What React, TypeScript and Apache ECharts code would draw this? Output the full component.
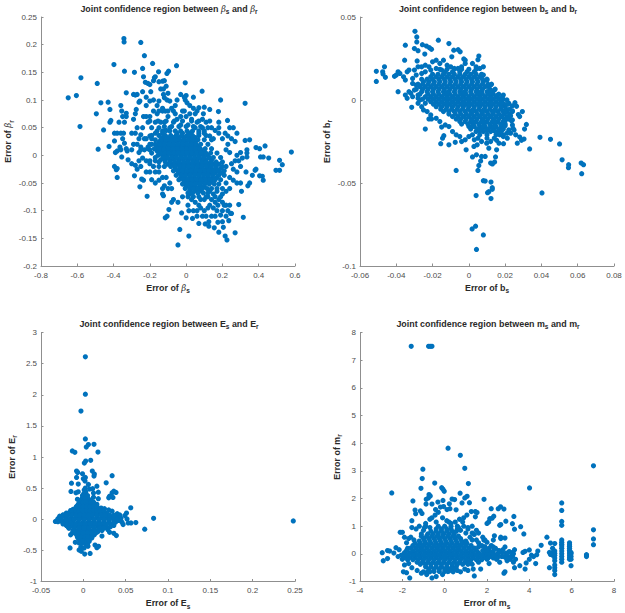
import React, { useEffect, useRef } from "react";
import * as echarts from "echarts";

type Row = [number, number[]];

const betaPoints = [[-0.65,0.104],[-0.605,0.108],[-0.58,0.14],[-0.585,0.052],[-0.49,0.13],[-0.495,0.075],[-0.47,0.095],[-0.485,0.011],[-0.455,0.046],[-0.43,0.096],[-0.42,0.083],[-0.425,0.016],[-0.398,0.164],[-0.343,0.211],[-0.342,0.205],[-0.34,0.152],[-0.25,0.204],[-0.23,0.18],[-0.185,0.166],[-0.24,0.157],[-0.285,0.15],[-0.053,0.162],[-0.152,0.151],[-0.097,0.152],[-0.106,0.148],[-0.005,0.131],[0.088,0.116],[0.19,0.1],[0.325,0.094],[0.178,0.079],[0.228,0.063],[-0.235,0.142],[-0.17,0.142],
[-0.045,-0.162],[0.015,-0.146],[-0.035,-0.134],[0.225,-0.153],[0.215,-0.146],[0.27,-0.14],[0.18,-0.139],[0.155,-0.131],[0.205,-0.13],[0.125,-0.128],[0.105,-0.124],[0.07,-0.123],[0.125,-0.12],[0.175,-0.121],[0.2,-0.12],[0.235,-0.118],[0.315,-0.112],[0.29,-0.089],[0.245,-0.105],[0.22,-0.11],[0.19,-0.108],[-0.115,-0.113],[-0.105,-0.11],[-0.095,-0.098],[-0.025,-0.104],[0,-0.113],[0.035,-0.114],[0.015,-0.1],[-0.08,-0.085],[-0.07,-0.08],[-0.045,-0.085],[-0.13,-0.07],[-0.125,-0.073],[-0.215,-0.074],[-0.17,-0.05],[-0.19,-0.044],[-0.255,-0.057],[-0.235,-0.045],[-0.245,-0.043],[-0.285,-0.037],[-0.38,-0.04],[-0.38,-0.024],[-0.395,-0.02],[-0.385,-0.026],
[0.58,0.006],[0.53,-0.017],[0.515,-0.009],[0.515,-0.027],[0.495,-0.027],[0.455,-0.005],[0.435,0.017],[0.425,-0.003],[0.41,-0.003],[0.405,0.012],[0.385,0.014],[0.42,-0.038],[0.425,-0.045],[0.405,-0.037],[0.385,-0.025],[0.38,-0.027],[0.365,-0.036],[0.35,0.028],[0.325,0.027],[0.335,0.01],[0.335,0.004],[0.335,-0.003],[0.35,-0.05],[0.34,-0.055],[0.305,-0.065],[0.3,-0.05],[0.33,-0.03],
[-0.33,0.113],[-0.29,0.11],[-0.28,0.109],[-0.27,0.11],[-0.26,0.096],[-0.255,0.098],[-0.24,0.115],[-0.22,0.105],[-0.225,0.132],[-0.21,0.13],[-0.2,0.128],[-0.195,0.115],[-0.18,0.135],[-0.175,0.14],[-0.15,0.133],[-0.13,0.134],[-0.12,0.135],[-0.11,0.125],[-0.14,0.12],[-0.125,0.12],[-0.1,0.112],[-0.09,0.098],[-0.125,0.11],[-0.12,0.104],[-0.105,0.1],[-0.15,0.098],[-0.16,0.09],[-0.18,0.1],[-0.2,0.098],[-0.22,0.09],[-0.275,0.083],[-0.28,0.075],[-0.29,0.065],[-0.235,0.07],[-0.22,0.07],[-0.2,0.07],[-0.18,0.08],[-0.16,0.075],[-0.15,0.08],[-0.13,0.085],[-0.115,0.08],[-0.14,0.06],[-0.17,0.06],[-0.19,0.05],[-0.21,0.06],[-0.24,0.05],[-0.27,0.05],[-0.28,0.04],[-0.3,0.04],[-0.25,0.037],[-0.23,0.03],[-0.2,0.035],[-0.17,0.04],[-0.15,0.05],[-0.12,0.06],[-0.1,0.07],[-0.08,0.085],[-0.06,0.075],[-0.05,0.065],[-0.07,0.06],[-0.09,0.05],[-0.11,0.045],[-0.13,0.04],[-0.06,0.09],[-0.05,0.1],[-0.03,0.11],[-0.01,0.105],[0,0.108],[-0.005,0.1],[0.005,0.095],[0.04,0.105],[0.02,0.09],[0.04,0.085],[0.07,0.086],[0.1,0.087],[0.13,0.083],[0.095,0.075],[0.05,0.075],[0.02,0.075],[-0.02,0.08],[-0.03,0.07],[0,0.07],[0.03,0.065],[0.06,0.06],[0.09,0.065],[0.11,0.06],[0.14,0.05],[0.18,0.06],[0.18,0.05],[0.18,0.04],[0.16,0.045],[0.12,0.05],[0.09,0.05],[0.05,0.05],[0.01,0.055],[-0.03,0.055],[0.1,0.04],[0.07,0.04],[0.13,0.035],[0.15,0.03],[0.2,0.03],[0.215,0.04],[0.24,0.05],[0.26,0.05],[0.23,0.02],[0.23,0.035],[0.25,0.03],[0.27,0.025],[0.28,0.04],
[-0.395,0.04],[-0.38,0.04],[-0.36,0.04],[-0.345,0.04],[-0.35,0.03],[-0.34,0.022],[-0.33,0.012],[-0.325,0.008],[-0.355,0.08],[-0.36,0.09],[-0.35,0.07],[-0.34,0.06],[-0.33,0.07],[-0.33,0.076],[-0.37,0.06],[-0.42,0.06],[-0.415,0.063],[-0.395,0.026],[-0.39,0.005],[-0.38,0.008],[-0.365,0.015],[-0.36,0.01],[-0.355,-0.003],[-0.32,-0.008],[-0.3,-0.015],[-0.28,-0.018],[-0.27,-0.025],[-0.29,0.02],[-0.27,0.02],[-0.25,0.015],[-0.23,0.01],[-0.21,0.015],[-0.19,0.02],[-0.26,0.005],[-0.24,-0.005],[-0.22,-0.01],[-0.2,-0.015],[-0.18,-0.02],[-0.22,-0.03],[-0.2,-0.03],[-0.17,-0.03],[-0.15,-0.03],[-0.13,-0.04],[-0.11,-0.04],[-0.12,-0.055],[-0.1,-0.06],[-0.08,-0.06],[-0.09,-0.05],[-0.15,-0.045],[-0.13,-0.06],
[0.02,-0.07],[0.03,-0.08],[0.05,-0.085],[0.08,-0.08],[0.1,-0.08],[0.12,-0.075],[0.14,-0.08],[0.16,-0.085],[0.18,-0.08],[0.2,-0.085],[0.22,-0.09],[0.24,-0.09],[0.25,-0.105],[0.23,-0.1],[0.2,-0.1],[0.17,-0.1],[0.15,-0.095],[0.12,-0.095],[0.1,-0.1],[0.08,-0.095],[0.06,-0.1],[0.04,-0.1],[0.09,-0.11],[0.11,-0.11],[0.14,-0.11],[0.16,-0.11],[0.06,-0.11],[0.2,-0.07],[0.22,-0.065],[0.24,-0.06],[0.26,-0.045],[0.24,-0.04],[0.26,-0.025],[0.28,-0.03],[0.3,-0.02],[0.29,-0.01],[0.28,0],[0.3,0.005],[0.31,-0.005],[0.27,-0.01],[0.25,-0.015],[0.22,-0.02],[0.24,0.005],[0.22,0.01],[0.28,-0.05],[0.22,-0.05],[0.2,-0.06],[0.17,-0.065],[0.15,-0.07],[0.13,-0.065]];
const betaCore: Row[] = [
[0.04,[-0.05,-0.02,0.02]],
[0.032,[-0.13,-0.1,-0.07,-0.04,-0.01,0.02,0.05]],
[0.024,[-0.15,-0.125,-0.1,-0.075,-0.05,-0.025,0,0.025,0.05]],
[0.016,[-0.16,-0.135,-0.11,-0.085,-0.06,-0.035,-0.01,0.015,0.04,0.065]],
[0.008,[-0.16,-0.135,-0.11,-0.085,-0.06,-0.035,-0.01,0.015,0.04,0.065,0.09]],
[0,[-0.155,-0.13,-0.105,-0.08,-0.055,-0.03,-0.005,0.02,0.045,0.07,0.095,0.12]],
[-0.008,[-0.14,-0.115,-0.09,-0.065,-0.04,-0.015,0.01,0.035,0.06,0.085,0.11,0.14]],
[-0.016,[-0.1,-0.075,-0.05,-0.025,0,0.025,0.05,0.075,0.1,0.125,0.15,0.18]],
[-0.024,[-0.06,-0.035,-0.01,0.015,0.04,0.065,0.09,0.115,0.14,0.165,0.19]],
[-0.032,[-0.04,-0.015,0.01,0.035,0.06,0.085,0.11,0.135,0.16,0.19]],
[-0.04,[-0.03,-0.005,0.02,0.045,0.07,0.095,0.12,0.145,0.17]],
[-0.048,[-0.01,0.015,0.04,0.065,0.09,0.115,0.14]],
[-0.056,[0,0.025,0.05,0.075,0.1]],
[-0.064,[0.02,0.05,0.08]],
[0.08,[-0.13,-0.1,-0.07,-0.01,0.06]],
[0.062,[-0.2,-0.155,-0.11,-0.065,-0.02,0.03,0.07,0.13]],
[0.052,[-0.12,-0.08,-0.04,0,0.04,0.08]],
[0.044,[-0.16,-0.13,-0.09,-0.06,-0.03,0.005,0.035,0.07,0.1]],
[0.036,[-0.19,-0.15,-0.115,-0.085,-0.055,-0.025,0.005,0.035,0.07,0.11]],
[0.028,[-0.17,-0.14,-0.11,-0.085,-0.06,-0.035,-0.01,0.012,0.035,0.065,0.1,0.14]],
[0.02,[-0.2,-0.17,-0.145,-0.12,-0.095,-0.07,-0.045,-0.02,0.005,0.03,0.055,0.08,0.12]],
[0.012,[-0.21,-0.175,-0.147,-0.122,-0.097,-0.072,-0.047,-0.022,0.003,0.028,0.052,0.078,0.105,0.14]],
[0.004,[-0.19,-0.145,-0.118,-0.093,-0.068,-0.043,-0.018,0.007,0.032,0.057,0.082,0.108,0.135,0.17]],
[-0.004,[-0.17,-0.128,-0.103,-0.078,-0.053,-0.028,-0.003,0.022,0.047,0.072,0.097,0.125,0.15,0.19]],
[-0.012,[-0.15,-0.115,-0.088,-0.063,-0.038,-0.013,0.012,0.037,0.062,0.087,0.112,0.138,0.165,0.2]],
[-0.02,[-0.085,-0.06,-0.035,-0.01,0.012,0.037,0.062,0.087,0.112,0.138,0.165,0.2]],
[-0.028,[-0.07,-0.048,-0.022,0.002,0.027,0.052,0.077,0.102,0.127,0.152,0.178,0.21]],
[-0.036,[-0.055,-0.028,-0.003,0.022,0.047,0.072,0.097,0.122,0.147,0.18,0.21]],
[-0.044,[-0.04,-0.015,0.007,0.032,0.057,0.082,0.107,0.13,0.16,0.19]],
[-0.052,[-0.02,0.006,0.028,0.052,0.077,0.102,0.127,0.155,0.18]],
[-0.06,[-0.005,0.02,0.04,0.065,0.09,0.115,0.14,0.17]],
[-0.068,[0.01,0.035,0.065,0.095,0.12]],
[-0.075,[-0.02,0.01,0.04,0.07,0.11,0.16,0.19]],
[-0.09,[0.01,0.07,0.13,0.175,0.21]],
[0.03,[-0.26,-0.22,-0.19]],
[0.01,[-0.3,-0.25,-0.2]],
[-0.01,[-0.26,-0.2,-0.17]],
[-0.02,[-0.25,-0.15,-0.12]]];

const bPoints = [[-0.051,0.0173],[-0.051,0.0112],[-0.0475,0.017],[-0.0465,0.02],[-0.0473,0.0157],[-0.046,0.0137],[-0.041,0.0143],[-0.04,0.015],[-0.039,0.017],[-0.039,0.005],[-0.0297,0.0414],[-0.0287,0.038],[-0.0287,0.035],[-0.035,0.033],[-0.03,0.031],[-0.028,0.0297],[-0.0256,0.0333],[-0.0234,0.0325],[-0.0217,0.0315],[-0.0206,0.0305],[-0.0243,0.0277],[-0.0168,0.036],[-0.011,0.034],[-0.0083,0.03],[-0.0059,0.0303],[-0.0048,0.029],[-0.0094,0.026],[0.0055,0.0265],[0.005,0.0243],[-0.0028,0.0247],[-0.002,0.024],[-0.0354,0.024],[-0.0285,0.0235],
[-0.0315,-0.0044],[-0.024,-0.0175],[-0.022,-0.0114],[-0.0206,-0.0114],[-0.015,-0.0163],[-0.0155,-0.0263],[-0.0145,-0.023],[-0.0138,-0.0215],[-0.011,-0.027],[-0.0075,-0.0255],[-0.007,-0.0424],[-0.0015,-0.03],[-0.004,-0.025],[0.005,-0.0424],[0.0055,-0.0394],[0.0065,-0.0367],[0.007,-0.034],[0.009,-0.034],[0.002,-0.0343],[0.0042,-0.033],[0.0028,-0.028],[0.0046,-0.027],[0.008,-0.0486],[0.009,-0.0488],[0.0122,-0.0494],[0.0129,-0.0528],[0.0129,-0.0538],[0.011,-0.0552],[0.0103,-0.0558],[0.004,-0.0576],[0.0122,-0.0594],[0.0037,-0.076],[0.0018,-0.0777],[0.008,-0.0813],[0.0042,-0.09],[0.0403,-0.056],[0.012,-0.038],[0.013,-0.0385],[0.0142,-0.0373],[0.0147,-0.0343],[0.0153,-0.03],[0.011,-0.029],[0.0098,-0.026],
[0.0335,-0.0295],[0.0392,-0.0225],[0.045,-0.0237],[0.05,-0.0265],[0.0514,-0.036],[0.055,-0.039],[0.0549,-0.0408],[0.0619,-0.038],[0.0632,-0.039],[0.0622,-0.0444],[0.0307,-0.0175],[0.0317,-0.0147],[0.0295,-0.007],[0.0273,-0.0088],[0.0254,-0.0016],[0.0263,-0.0038],[0.028,-0.01],[0.0249,-0.018],[0.0258,-0.021],[0.028,-0.0223],[0.029,-0.0243],[0.0304,-0.0235],[0.0267,-0.026],[0.0191,-0.0263],[0.0166,-0.026],[0.0153,-0.0243],[0.0212,-0.023],[0.023,-0.02],[0.0243,-0.017],[0.024,-0.012],[0.024,-0.007],
[-0.038,0.016],[-0.036,0.014],[-0.035,0.012],[-0.034,0.017],[-0.033,0.005],[-0.035,0.003],[-0.034,0.001],[-0.032,0.004],[-0.031,0.002],[-0.033,0.018],[-0.03,0.018],[-0.028,0.02],[-0.026,0.02],[-0.024,0.021],[-0.022,0.02],[-0.02,0.023],[-0.018,0.024],[-0.016,0.022],[-0.014,0.024],[-0.012,0.021],[-0.01,0.02],[-0.008,0.019],[-0.006,0.019],[-0.004,0.02],[-0.002,0.022],[0.002,0.022],[0.004,0.02],[0.006,0.019],[0.008,0.02],[-0.031,0.013],[-0.029,0.015],[-0.029,0.009],[-0.03,0.006],[-0.031,0.01],[-0.028,0.003],[-0.027,0],[-0.028,-0.002],[-0.026,-0.004],[-0.025,-0.006],[-0.023,-0.007],[-0.021,-0.009],[-0.018,-0.011],[-0.016,-0.013],[-0.013,-0.015],[-0.011,-0.016],[-0.009,-0.019],[-0.007,-0.021],[-0.005,-0.022],[-0.002,-0.024],[0,-0.022],[0.003,-0.024],[0.005,-0.023],[0.007,-0.025],[0.01,-0.023],[0.012,-0.025],[0.014,-0.023],[0.017,-0.021],[0.019,-0.022],[0.022,-0.018],[0.021,-0.02],[0.024,-0.015],[0.022,-0.002],[0.021,0],[0.019,0.003],[0.016,0.003],[0.014,0.006],[0.012,0.009],[0.01,0.012],[0.008,0.015],[-0.026,0.016],[-0.024,0.017],[-0.021,0.018],[-0.018,0.019],[-0.015,0.018]];
const bCore: Row[] = [
[0.017,[-0.013,-0.009,-0.005,-0.001,0.003]],
[0.014,[-0.021,-0.018,-0.015,-0.012,-0.009,-0.006,-0.003,0,0.003,0.006]],
[0.011,[-0.025,-0.022,-0.019,-0.016,-0.013,-0.01,-0.007,-0.004,-0.001,0.002,0.005,0.008]],
[0.008,[-0.027,-0.024,-0.021,-0.018,-0.015,-0.012,-0.009,-0.006,-0.003,0,0.003,0.006,0.009,0.011]],
[0.005,[-0.026,-0.023,-0.02,-0.017,-0.014,-0.011,-0.008,-0.005,-0.002,0.001,0.004,0.007,0.01,0.013]],
[0.002,[-0.024,-0.021,-0.018,-0.015,-0.012,-0.009,-0.006,-0.003,0,0.003,0.006,0.009,0.012,0.015]],
[-0.001,[-0.021,-0.018,-0.015,-0.012,-0.009,-0.006,-0.003,0,0.003,0.006,0.009,0.012,0.015,0.018]],
[-0.004,[-0.018,-0.015,-0.012,-0.009,-0.006,-0.003,0,0.003,0.006,0.009,0.012,0.015,0.018,0.02]],
[-0.007,[-0.014,-0.011,-0.008,-0.005,-0.002,0.001,0.004,0.007,0.01,0.013,0.016,0.019,0.021]],
[-0.01,[-0.009,-0.006,-0.003,0,0.003,0.006,0.009,0.012,0.015,0.018,0.021]],
[-0.013,[-0.005,-0.002,0.001,0.004,0.007,0.01,0.013,0.016,0.019]],
[-0.016,[0,0.003,0.006,0.009,0.012,0.015,0.018]],
[-0.019,[0.004,0.008,0.012,0.016]],
[0.0185,[-0.016,-0.012,-0.008,-0.004,0,0.004]],
[0.0155,[-0.02,-0.017,-0.014,-0.011,-0.008,-0.005,-0.002,0.001,0.004,0.007]],
[0.0125,[-0.026,-0.023,-0.02,-0.0165,-0.0135,-0.0105,-0.0075,-0.0045,-0.0015,0.0015,0.0045,0.0075,0.01]],
[0.0095,[-0.028,-0.0255,-0.0225,-0.0195,-0.0165,-0.0135,-0.0105,-0.0075,-0.0045,-0.0015,0.0015,0.0045,0.0075,0.0105,0.0125]],
[0.0065,[-0.029,-0.0255,-0.0225,-0.0195,-0.0165,-0.0135,-0.0105,-0.0075,-0.0045,-0.0015,0.0015,0.0045,0.0075,0.0115,0.0145]],
[0.0035,[-0.027,-0.0225,-0.0195,-0.0165,-0.0135,-0.0105,-0.0075,-0.0045,-0.0015,0.0015,0.0045,0.0075,0.0105,0.0135,0.0165]],
[0.0005,[-0.0255,-0.0225,-0.0195,-0.0165,-0.0135,-0.0105,-0.0075,-0.0045,-0.0015,0.0015,0.0045,0.0075,0.0105,0.0135,0.0165,0.019]],
[-0.0025,[-0.0195,-0.0165,-0.0135,-0.0105,-0.0075,-0.0045,-0.0015,0.0015,0.0045,0.0075,0.0105,0.0135,0.0165,0.0195,0.0215]],
[-0.0055,[-0.0155,-0.0125,-0.0095,-0.0065,-0.0035,-0.0005,0.0025,0.0055,0.0085,0.0115,0.0145,0.0175,0.0205,0.0225]],
[-0.0085,[-0.011,-0.0075,-0.0045,-0.0015,0.0015,0.0045,0.0075,0.0105,0.0135,0.0165,0.0195,0.0225]],
[-0.0115,[-0.007,-0.0045,-0.0015,0.0015,0.0045,0.0075,0.0105,0.0135,0.0165,0.0195,0.022]],
[-0.0145,[-0.004,-0.0005,0.0025,0.0055,0.0085,0.0115,0.0145,0.0175,0.02]],
[-0.0175,[0.001,0.0045,0.0075,0.0105,0.0135,0.0165,0.019]],
[-0.0035,[0,0.006,0.012,0.018,0.024]],
[-0.0065,[0.002,0.008,0.014,0.02,0.024]],
[-0.0095,[0,0.006,0.012,0.018,0.023]],
[-0.0125,[0.002,0.008,0.014,0.02,0.0235]],
[-0.0155,[0.002,0.008,0.014,0.02]],
[-0.0185,[0.006,0.01,0.014,0.018]],
[-0.021,[0.002,0.006,0.01,0.015,0.019]],
[0.001,[-0.028,-0.012,-0.006,0,0.006,0.012,0.018]],
[0.0045,[-0.012,-0.003,0.006,0.012]],
[-0.002,[-0.024,-0.012,-0.003,0.006,0.012,0.018]]];

const ePoints = [[0.0024,2.61],[0.0024,2.01],[-0.0028,1.737],[0.0024,1.29],[0.0126,1.204],[0.006,1.2],[0.0035,1.16],[0.0173,1.08],[-0.013,1.097],[-0.01,1.075],[0.0087,0.946],[0.0028,0.935],[0.0012,0.903],[-0.008,0.775],[-0.0067,0.753],[0.0106,0.775],[0.013,0.726],[0.0126,0.693],[-0.001,0.73],[0.034,0.7],[-0.008,0.672],[-0.014,0.58],[-0.006,0.565],[0.0024,0.672],[0,0.65],[0.002,0.613],[0.006,0.56],[0.027,0.586],[0.016,0.532],[-0.0146,0.446],[-0.0087,0.425],[-0.006,0.44],[0.0075,0.484],[0.011,0.49],[0.0024,0.5],[0.0177,0.435],[0.012,0.42],[0.036,0.45],[0.0386,0.43],[0.034,0.425],[0.031,0.37],[0.035,0.35],[0.03,0.344],[-0.007,0.32],[0.0177,0.33],[0.012,0.355],[0.001,0.47],[0.003,0.44],[0.0005,0.41],
[0.0016,-0.56],[0.008,-0.55],[-0.005,-0.495],[-0.0024,-0.516],[-0.0157,-0.46],[-0.0095,-0.37],[-0.005,-0.38],[0.0055,-0.435],[0.0138,-0.415],[0.018,-0.435],[0.016,-0.457],[0.022,-0.27],[0.039,-0.263],[0.036,-0.226],[0.031,-0.21],[0.029,-0.167],[0.0725,-0.16],[0.083,0.016],[0.248,-0.027],[0.062,-0.054],[0.056,0.183],[0.0563,-0.06],[0.0516,0.005],[0.053,-0.06],[0.047,-0.086],[0.051,0.1],[0.049,0.06],[0.0445,0.016],[0.0457,-0.048],[0.043,0.07],[0.04,0.04],[0.042,-0.02],[0.038,-0.05],[0.036,-0.1],[0.032,-0.12],[0.028,-0.14],[-0.015,-0.25],[-0.013,-0.22],[-0.012,-0.18],[-0.018,-0.12],[-0.02,-0.1],[-0.022,-0.07],[-0.027,-0.03],[-0.033,-0.035],[-0.03,0.01],[-0.028,0.05],[-0.024,0.07],[-0.02,0.1],[-0.015,0.14],[-0.012,0.16],[-0.008,0.2],[-0.006,0.24],[0.021,0.18],[0.025,0.17],[0.03,0.15],[0.034,0.13],[0.04,0.09],[0.012,0.27],[0.016,0.24],[-0.006,-0.3],[0.01,-0.3],[0.013,-0.25],[0.017,-0.2],[0.022,-0.18],[0.004,0.35],[0.001,0.3],[0.005,-0.42],[-0.003,-0.45],[0.001,-0.46]];
const eCore: Row[] = [
[0.38,[-0.001,0.002,0.005]],
[0.31,[-0.003,0,0.003,0.006,0.009]],
[0.24,[-0.005,-0.001,0.003,0.007,0.011,0.014]],
[0.17,[-0.01,-0.006,-0.002,0.002,0.006,0.01,0.014,0.018]],
[0.1,[-0.017,-0.012,-0.007,-0.002,0.003,0.008,0.013,0.018,0.023,0.028]],
[0.03,[-0.026,-0.02,-0.014,-0.008,-0.002,0.004,0.01,0.016,0.022,0.028,0.034,0.038]],
[-0.04,[-0.03,-0.024,-0.018,-0.012,-0.006,0,0.006,0.012,0.018,0.024,0.03,0.036]],
[-0.11,[-0.019,-0.013,-0.007,-0.001,0.005,0.011,0.017,0.023,0.027]],
[-0.18,[-0.012,-0.007,-0.002,0.003,0.008,0.013,0.017]],
[-0.25,[-0.008,-0.003,0.002,0.007,0.011]],
[-0.32,[-0.005,-0.001,0.003,0.007]],
[-0.39,[-0.002,0.002,0.005]],
[0.345,[-0.001,0.002,0.005]],
[0.275,[-0.004,-0.001,0.003,0.006,0.009,0.012]],
[0.205,[-0.008,-0.004,0,0.004,0.008,0.012,0.016]],
[0.135,[-0.014,-0.009,-0.005,-0.001,0.004,0.008,0.012,0.016,0.02,0.024]],
[0.065,[-0.024,-0.019,-0.014,-0.009,-0.004,0.001,0.006,0.011,0.016,0.021,0.026,0.031,0.036]],
[-0.005,[-0.03,-0.026,-0.021,-0.016,-0.011,-0.005,0.001,0.007,0.013,0.019,0.025,0.031,0.037,0.04]],
[-0.075,[-0.024,-0.019,-0.014,-0.009,-0.004,0.002,0.008,0.014,0.02,0.026,0.032]],
[-0.145,[-0.017,-0.011,-0.005,0.001,0.007,0.013,0.019,0.024]],
[-0.215,[-0.01,-0.005,0,0.005,0.01,0.015]],
[-0.285,[-0.007,-0.003,0.002,0.006,0.01]],
[-0.355,[-0.003,0,0.004,0.007]]];

const mPoints = [[-1.58,7.5],[-0.76,7.5],[-0.68,7.5],[-0.6,7.5],[0.16,3.82],[0.74,3.56],[0.95,3.09],[7.03,3.18],[-1.03,3.06],[-1.06,2.72],[-0.47,2.56],[1.12,2.54],[-1.12,2.37],[-0.14,2.39],[-0.08,2.33],[-0.02,2.26],[4.01,2.38],[-2.5,2.2],[-0.74,2.14],[-0.68,2.09],[0.73,2.19],[1.06,2.08],[0.95,2.02],[1.86,1.97],[-1.5,1.91],[-0.87,1.97],[-0.77,2.02],[0.35,1.98],[0.47,1.96],[-0.08,1.93],[-0.32,1.87],[-0.88,1.8],[-0.6,1.8],[0.22,1.81],[0.82,1.84],[1.17,1.85],[5.53,1.84],[5.53,1.57],[5.53,1.17],[5.53,1.03],[-1.4,1.58],[-1.15,1.55],[-1.37,1.45],[-1.07,1.46],[-0.43,1.6],[-0.2,1.69],[-0.05,1.71],[0.54,1.59],[0.11,1.6],[0.25,1.63],[1.26,1.53],[1.45,1.53],[1.53,1.49],[1.45,1.34],[2.2,1.63],[2.53,1.63],[2.64,1.7],[2.8,1.62],[3.27,1.35],[2.89,1.18],[3.2,1.09],[3.3,0.89],[3.59,0.98],[3.74,0.72],[2.24,1.29],[2.13,1.27],[2.32,1.36],[2,1.1],[2.08,1.15],[2.6,1.03],[2.65,1.06],[7.03,0.87],[7.03,0.54],[7.03,0.33],[4.83,0.6],[5,0.39],[5.2,0.37],[4.56,0.31],
[5.53,0.5],[5.53,0.42],[5.53,0.35],[5.53,0.28],[5.53,0.2],[5.53,0.1],[5.53,0],[5.53,-0.1],[5.53,-0.2],[5.53,-0.3],[5.9,0.4],[5.9,0.33],[5.9,0.27],[5.9,0.2],[5.9,0.13],[5.9,0.07],[5.9,0],[5.9,-0.07],[5.9,-0.14],[5.9,-0.2],[5.97,0.05],[5.97,0],[5.97,-0.1],[5.97,-0.2],[5.97,-0.43],[5.2,0.1],[5.2,0.02],[5.2,-0.05],[5.2,-0.15],[5.2,-0.25],[5.2,-0.4],[5.2,-0.5],[5.2,-0.6],[5.2,-0.75],[5.1,0.2],[5.1,0.05],[5.1,-0.05],[6.7,-0.03],[6.7,-0.1],[6.7,-0.05],[4.95,-0.5],[4.95,0.05],[5,-0.02],[4.4,0.1],[4.35,-0.03],[4.3,-0.35],[4.2,-0.1],[4.1,-0.05],[4,0.14],[4,-0.2],[3.8,0.09],[3.7,0.05],[3.85,-0.33],[3.8,-0.55],[3.55,-0.43],[3.3,-0.5],[3.3,0.15],[3.2,0.05],[3.15,-0.08],[3.35,-0.2],[3.05,0.08],[3,-0.15],[3.25,-0.3],[2.95,-0.25],[2.85,-0.65],[2.8,-0.7],[2.9,0.03],[2.85,0.25],[2.85,0.57],[2.65,0.55],[2.65,0.6],[2.35,0.65],[2.3,0.5],[2.2,0.3],[2.1,0.2],[2,0.42],[1.85,0.5],[1.8,0.6],[2.4,0.2],[2.55,0.12],[2.7,-0.1],[2.6,-0.3],[2.45,-0.2],[2.3,-0.15],[2.1,-0.35],[2,-0.2],[1.7,-0.55],[1.4,-0.8],[1.1,-0.6],[0.95,-0.55],[0.6,-0.6],[0.4,-0.55],[-0.1,-0.75],[-0.4,-0.82],[-0.6,-0.87],[-1.65,-0.87],[-1.8,-0.68],[-1.95,-0.65],[-1.7,-0.35],[-1.9,-0.4],[-2,-0.2],[-2.2,-0.1],[-2.4,0.03],[-2.3,0.22],[-2.6,0.1],[-2.7,0.12],[-2.95,0.04],[-2.9,-0.25],[-2.7,-0.17],[-2.1,0.78],[-2,0.78],[-1.9,0.6],[-1.7,0.55],[-1.8,0.4],[-2.15,0.15],[-1.55,0.95],[-1.55,1.2],[-1.35,0.9],[-1.2,1],[-1.1,0.72],[-0.7,1.25],[-0.6,1.3],[-0.45,1.4],[-0.3,1.5],[-0.1,1.3],[0.1,1.2],[0.3,1.1],[0.5,1.15],[0.7,1.25],[0.9,1.3],[1.05,1.4],[1.3,1.0],[1.1,0.9],[0.9,1.0],[1.5,0.85],[1.4,0.7],[1.2,0.6],[1.6,0.4],[1.75,0.3],[1.9,0.25],[-0.7,0.95],[-0.9,1],[-1,0.85],[-0.9,1.1],[0.6,0.9],[0.75,0.85],[-1.6,0.6],[-1.45,0.5],[-1.75,0.2],[-1.3,-0.6],[-1.1,-0.7],[-0.85,-0.75],[-0.7,-0.65],[0.2,-0.62],[-1.55,-0.5],[1.35,-0.55],[1.6,-0.3],[1.9,-0.1],[2.2,0.05],[2.5,0],[2.7,0.05],
[2.3,0.1],[2.4,-0.05],[2.6,0.1],[2.75,0.15],[2.8,-0.1],[2.95,-0.05],[3.1,-0.2],[3.2,-0.1],[3.25,0],[2.55,-0.1],[2.35,-0.05],[2.2,-0.1],[2.1,0.05],[2,0.1]];
const mCore: Row[] = [
[0.9,[-0.4,-0.15,0.1,0.3]],
[0.72,[-0.8,-0.55,-0.3,-0.05,0.2,0.45]],
[0.55,[-1,-0.75,-0.5,-0.25,0,0.25,0.5,0.75]],
[0.38,[-1.4,-1.15,-0.9,-0.65,-0.4,-0.15,0.1,0.35,0.6,0.85,1.05]],
[0.21,[-1.6,-1.35,-1.1,-0.85,-0.6,-0.35,-0.1,0.15,0.4,0.65,0.9,1.15,1.4]],
[0.04,[-1.9,-1.65,-1.4,-1.15,-0.9,-0.65,-0.4,-0.15,0.1,0.35,0.6,0.85,1.1,1.35,1.6,1.85,2.1]],
[-0.13,[-1.9,-1.65,-1.4,-1.15,-0.9,-0.65,-0.4,-0.15,0.1,0.35,0.6,0.85,1.1,1.35,1.6,1.85]],
[-0.3,[-1.3,-1.05,-0.8,-0.55,-0.3,-0.05,0.2,0.45,0.7,0.95,1.15]],
[-0.47,[-0.9,-0.65,-0.4,-0.15,0.1,0.35,0.55]],
[-0.64,[-0.5,-0.25,0,0.15]],
[1,[-0.3,0,0.3,0.6]],
[0.82,[-0.65,-0.4,-0.15,0.1,0.35,0.55]],
[0.64,[-1.1,-0.85,-0.6,-0.35,-0.1,0.15,0.4,0.65]],
[0.46,[-1.2,-0.95,-0.7,-0.45,-0.2,0.05,0.3,0.55,0.8,1]],
[0.3,[-1.5,-1.25,-1,-0.75,-0.5,-0.25,0,0.25,0.5,0.75,1,1.25]],
[0.12,[-1.8,-1.5,-1.25,-1,-0.75,-0.5,-0.25,0,0.25,0.5,0.75,1,1.25,1.5,1.8,2]],
[-0.05,[-2.05,-1.8,-1.5,-1.25,-1,-0.75,-0.5,-0.25,0,0.25,0.5,0.75,1,1.25,1.5,1.75,2,2.3]],
[-0.21,[-1.75,-1.5,-1.25,-1,-0.75,-0.5,-0.25,0,0.25,0.5,0.75,1,1.25,1.5,1.75]],
[-0.38,[-1.15,-0.9,-0.65,-0.4,-0.15,0.1,0.35,0.6,0.85,1.1,1.3]],
[-0.55,[-0.75,-0.5,-0.25,0,0.25,0.5]],
[0.75,[1,1.3,1.6]],
[0.5,[1.3,1.5,1.9]],
[0.95,[-0.95,0.65,1.1]],
[1.15,[-0.4,0.2,0.85]],
[-0.65,[-1,-0.8,0.4,0.75]],
[0.25,[1.6,1.9,2.3]],
[-0.15,[2.05,2.45,2.9]]];

const expand = (rows: Row[]) => rows.flatMap(([y, xs]) => xs.map((x) => [x, y]));

const FONT = "'Liberation Sans', Arial, sans-serif";
const BLUE = "#0072BD";
const AXIS = "#8f8f8f";
const richBase = {
  t: { fontFamily: FONT, fontWeight: "bold", fontSize: 8.9, color: "#2a2a2a" },
  g: { fontFamily: "'DejaVu Serif', serif", fontStyle: "italic", fontWeight: "normal", fontSize: 8.5, color: "#2a2a2a" },
  s: { fontFamily: FONT, fontWeight: "bold", fontSize: 6.5, color: "#2a2a2a", padding: [6, 0, 0, 0] },
};
const nameOf = (a: string, sub: string, g = false) => `{t|Error of }${g ? `{g|${a}}` : `{t|${a}}`}{s|${sub}}`;

const panels = [
  { data: [...betaPoints, ...expand(betaCore)], left: 41, top: 17, x: [-0.8, 0.6, 0.2], y: [-0.2, 0.25, 0.05], a: "β", g: true, nameGapY: 26, titleY: 2 },
  { data: [...bPoints, ...expand(bCore)], left: 360, top: 17, x: [-0.06, 0.08, 0.02], y: [-0.1, 0.05, 0.05], a: "b", g: false, nameGapY: 27, titleY: 2 },
  { data: [...ePoints, ...expand(eCore)], left: 41, top: 332.5, x: [-0.05, 0.25, 0.05], y: [-1, 3, 0.5], a: "E", g: false, nameGapY: 23, titleY: 317 },
  { data: [...mPoints, ...expand(mCore)], left: 360, top: 332.5, x: [-4, 8, 2], y: [-1, 8, 1], a: "m", g: false, nameGapY: 17, titleY: 317 },
];

const axisBase = (p: number[], name: string, gap: number, margin: number) => ({
  min: p[0], max: p[1], interval: p[2], type: "value" as const,
  name, nameLocation: "middle" as const, nameGap: gap,
  nameTextStyle: { rich: richBase },
  axisLine: { show: true, onZero: false, lineStyle: { color: AXIS, width: 1 } },
  axisTick: { show: true, inside: true, length: 2.5, lineStyle: { color: AXIS, width: 1 } },
  axisLabel: { color: "#4d4d4d", fontFamily: FONT, fontSize: 8, margin },
  splitLine: { show: false },
});

export default function App() {
  const ref = useRef<HTMLDivElement>(null);
  useEffect(() => {
    const chart = echarts.init(ref.current!, undefined, { renderer: "svg" });
    chart.setOption({
      animation: false,
      backgroundColor: "#fff",
      title: panels.map((p) => ({
        text: `{t|Joint confidence region between }${p.g ? `{g|${p.a}}` : `{t|${p.a}}`}{s|s}{t| and }${p.g ? `{g|${p.a}}` : `{t|${p.a}}`}{s|r}`,
        left: p.left + 128, top: p.titleY, textAlign: "center", padding: 0,
        textStyle: { rich: richBase },
      })),
      grid: panels.map((p) => ({ left: p.left, top: p.top, width: 254, height: 249 })),
      xAxis: panels.map((p, i) => ({ ...axisBase(p.x, nameOf(p.a, "s", p.g), 15, 5), gridIndex: i })),
      yAxis: panels.map((p, i) => ({ ...axisBase(p.y, nameOf(p.a, "r", p.g), p.nameGapY, 4), gridIndex: i })),
      series: panels.map((p, i) => ({
        type: "scatter", xAxisIndex: i, yAxisIndex: i, data: p.data,
        symbolSize: 5.2, itemStyle: { color: BLUE, opacity: 1 }, silent: true,
      })),
    });
    return () => chart.dispose();
  }, []);
  return <div ref={ref} style={{ position: "absolute", left: 0, top: 0, width: 625, height: 613 }} />;
}
